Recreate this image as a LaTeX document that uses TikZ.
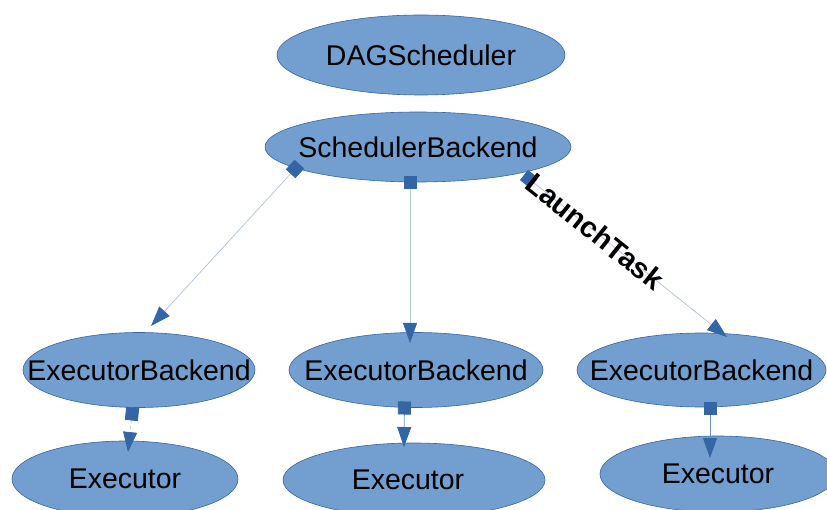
\documentclass[tikz,border=0pt]{standalone}
\usepackage{fontspec}
\setmainfont{Liberation Sans}
\usetikzlibrary{arrows.meta,shapes.geometric}
\definecolor{fillb}{HTML}{729FCF}
\definecolor{edgeb}{HTML}{3465A4}
\definecolor{lineb}{HTML}{B4C7DC}
\definecolor{lineb2}{HTML}{6A90C6}
\begin{document}
\begin{tikzpicture}[x=1pt,y=-1pt,
  ell/.style={ellipse, draw=edgeb, line width=0.6pt, fill=fillb, inner sep=0pt},
  lbl/.style={font=\fontsize{28.5}{34}\selectfont, text=black},
  conn/.style={draw=lineb, line width=0.8pt,
    {Square[length=13pt,width=13pt,color=edgeb]}-{Triangle[length=20pt,width=14pt,color=edgeb]}},
  conn2/.style={conn, draw=lineb2},
  tasklbl/.style={font=\bfseries\fontsize{29}{34}\selectfont, text=black, inner sep=0pt}
]
\useasboundingbox (0,0) rectangle (827,510);
\clip (0,0) rectangle (827,510);

\node[ell, minimum width=288pt, minimum height=80pt, label={[lbl]center:DAGScheduler}] (dag) at (421,55) {};
\node[ell, minimum width=306pt, minimum height=70pt, label={[lbl]center:SchedulerBackend}] (sb) at (418,147) {};

\node[ell, minimum width=232pt, minimum height=75pt, label={[lbl]center:ExecutorBackend}] (eb1) at (139,370) {};
\node[ell, minimum width=254pt, minimum height=75pt, label={[lbl]center:ExecutorBackend}] (eb2) at (416,370) {};
\node[ell, minimum width=249pt, minimum height=74pt, label={[lbl]center:ExecutorBackend}] (eb3) at (701.5,370) {};

\node[ell, minimum width=226pt, minimum height=76pt, label={[lbl]center:Executor}] (ex1) at (125,479) {};
\node[ell, minimum width=262pt, minimum height=74pt, label={[lbl, xshift=-6pt]center:Executor}] (ex2) at (414,480) {};
\node[ell, minimum width=236pt, minimum height=76pt, label={[lbl]center:Executor}] (ex3) at (718,474) {};

\draw[conn] ([shift={(-118.6,17.2)}]sb.center) -- ([shift={(12,-44)}]eb1.center);
\draw[conn] ([shift={(-8,29)}]sb.center) -- ([shift={(-6,-27)}]eb2.center);
\draw[conn] ([shift={(106,28)}]sb.center) -- node[pos=0.35, sloped, tasklbl] {LaunchTask} ([shift={(25.5,-33)}]eb3.center);

\draw[conn, dashed] ([shift={(-6.3,37.5)}]eb1.center) -- ([shift={(3,-27)}]ex1.center);
\draw[conn2] ([shift={(-11.5,31.5)}]eb2.center) -- ([shift={(-10,-33)}]ex2.center);
\draw[conn2] ([shift={(8.5,31.5)}]eb3.center) -- ([shift={(-8,-16)}]ex3.center);
\end{tikzpicture}
\end{document}
